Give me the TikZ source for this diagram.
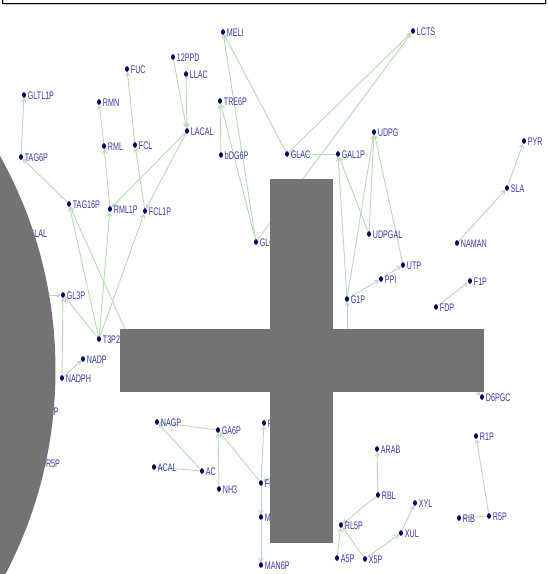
\documentclass[tikz,border=0pt]{standalone}
\usepackage{fontspec}
\newfontfamily\lblfont[FakeStretch=0.65]{Liberation Sans}
\usetikzlibrary{arrows.meta,shapes.geometric,backgrounds}
\definecolor{dotblue}{RGB}{10,10,100}
\definecolor{txtblue}{RGB}{55,55,165}
\definecolor{edgegreen}{RGB}{185,218,185}
\definecolor{cover}{RGB}{115,115,115}

\begin{document}
\begin{tikzpicture}[x=1pt,y=-1pt,
  met/.style={ellipse,fill=dotblue,inner sep=0pt,minimum width=4pt,minimum height=5.6pt,
    label={[lbl]right:#1}},
  lbl/.style={text=txtblue,font=\lblfont\fontsize{11}{11}\selectfont,inner sep=1.5pt,
    text height=8pt,text depth=0pt},
  rx/.style={draw=edgegreen,line width=0.9pt,-{Straight Barb[length=3.5pt,width=4.5pt]}}]
\useasboundingbox (0,0) rectangle (548,574);
% frame at the top
\draw[gray!45,line width=1.6pt] (3.5,-5) -- (3.5,4.6) -- (546.5,4.6) -- (546.5,-5);
\draw[black,line width=0.8pt] (2,-5) -- (2,3) -- (545,3) -- (545,-5);

\node[met=MELI] (meli) at (223,32) {};
\node[met=LCTS] (lcts) at (413,31) {};
\node[met=12PPD] (ppd) at (173,57) {};
\node[met=FUC] (fuc) at (127,69) {};
\node[met=LLAC] (llac) at (186,74) {};
\node[met=GLTL1P] (gltl1p) at (24,95) {};
\node[met=RMN] (rmn) at (99,102) {};
\node[met=TRE6P] (tre6p) at (220,101) {};
\node[met=LACAL] (lacal) at (187,131) {};
\node[met=UDPG] (udpg) at (374,132) {};
\node[met=PYR] (pyr) at (524,141) {};
\node[met=RML] (rml) at (104,146) {};
\node[met=FCL] (fcl) at (135,145) {};
\node[met=TAG6P] (tag6p) at (21,157) {};
\node[met=bDG6P] (bdg6p) at (221,155) {};
\node[met=GLAC] (glac) at (287,154) {};
\node[met=GAL1P] (gal1p) at (338,154) {};
\node[met=SLA] (sla) at (507,188) {};
\node[met=TAG16P] (tag16p) at (69,204) {};
\node[met=RML1P] (rml1p) at (110,209) {};
\node[met=FCL1P] (fcl1p) at (145,211) {};
\node[met=GLAL] (glal) at (25,233) {};
\node[met=UDPGAL] (udpgal) at (369,234) {};
\node[met=GLC] (glc) at (256,242) {};
\node[met=NAMAN] (naman) at (457,243) {};
\node[met=UTP] (utp) at (403,265) {};
\node[met=PPI] (ppi) at (381,279) {};
\node[met=F1P] (f1p) at (470,281) {};
\node[met=GL3P] (gl3p) at (63,295) {};
\node[met=G1P] (g1p) at (347,299) {};
\node[met=FDP] (fdp) at (436,307) {};
\node[met=T3P2] (t3p2) at (99,339) {};
\node[met=NADP] (nadp) at (83,359) {};
\node[met=NADPH] (nadph) at (62,378) {};
\node[met=D6PGC] (d6pgc) at (482,397) {};
\node[met=DR1P] (dr1p) at (35.5,411) {};
\node[met=NAGP] (nagp) at (157,422) {};
\node[met=FRU] (fru) at (264,423) {};
\node[met=GA6P] (ga6p) at (218,430) {};
\node[met=R1P] (r1p) at (476,436) {};
\node[met=ARAB] (arab) at (377,449) {};
\node[met=DR5P] (dr5p) at (37,463) {};
\node[met=ACAL] (acal) at (154,467) {};
\node[met=AC] (ac) at (202,471) {};
\node[met=F6P] (f6p) at (261,483) {};
\node[met=NH3] (nh3) at (219,489) {};
\node[met=RBL] (rbl) at (378,495) {};
\node[met=XYL] (xyl) at (415,503) {};
\node[met=R5P] (r5p) at (489,516) {};
\node[met=MNL1P] (mnl1p) at (261,517) {};
\node[met=RIB] (rib) at (459,518) {};
\node[met=RL5P] (rl5p) at (341,525) {};
\node[met=XUL] (xul) at (401,533) {};
\node[met=A5P] (a5p) at (337,558) {};
\node[met=X5P] (x5p) at (365,559) {};
\node[met=MAN6P] (man6p) at (261,565) {};
\coordinate (gl) at (10,295);
\coordinate (t3p1) at (150,385);
\coordinate (g6p) at (347,370);
\coordinate (f6pr) at (300,461);
\coordinate (pgl) at (455,370);

\begin{scope}[on background layer]
\draw[rx] (tag6p) -- (gltl1p);
\draw[rx] (tag16p) -- (tag6p);
\draw[rx] (t3p2) -- (tag16p);
\draw[rx] (t3p1) -- (tag16p);
\draw[rx] (rml) -- (rmn);
\draw[rx] (rml1p) -- (rml);
\draw[rx] (t3p2) -- (rml1p);
\draw[rx] (lacal) -- (rml1p);
\draw[rx] (fcl) -- (fuc);
\draw[rx] (fcl1p) -- (fcl);
\draw[rx] (t3p2) -- (fcl1p);
\draw[rx] (lacal) -- (fcl1p);
\draw[rx] (ppd) -- (lacal);
\draw[rx] (llac) -- (lacal);
\draw[rx] (t3p2) -- (gl3p);
\draw[rx] (nadph) -- (gl3p);
\draw[rx] (gl) -- (gl3p);
\draw[rx] (nadph) -- (nadp);
\draw[rx] (glac) -- (meli);
\draw[rx] (glc) -- (meli);
\draw[rx] (glac) -- (lcts);
\draw[rx] (glc) -- (lcts);
\draw[rx] (bdg6p) -- (tre6p);
\draw[rx] (glc) -- (tre6p);
\draw[rx] (gal1p) -- (glac);
\draw[rx] (g1p) -- (gal1p);
\draw[rx] (udpgal) -- (gal1p);
\draw[rx] (udpgal) -- (udpg);
\draw[rx] (g1p) -- (udpg);
\draw[rx] (utp) -- (udpg);
\draw[rx] (g1p) -- (ppi);
\draw[rx] (ppi) -- (utp);
\draw[rx] (g6p) -- (g1p);
\draw[rx] (naman) -- (sla);
\draw[rx] (sla) -- (pyr);
\draw[rx] (fdp) -- (f1p);
\draw[rx] (pgl) -- (d6pgc);
\draw[rx] (ga6p) -- (nagp);
\draw[rx] (ac) -- (nagp);
\draw[rx] (ac) -- (acal);
\draw[rx] (nh3) -- (ga6p);
\draw[rx] (f6p) -- (ga6p);
\draw[rx] (f6p) -- (fru);
\draw[rx] (f6p) -- (mnl1p);
\draw[rx] (mnl1p) -- (man6p);
\draw[rx] (f6pr) -- (f6p);
\draw[rx] (rbl) -- (arab);
\draw[rx] (rbl) -- (rl5p);
\draw[rx] (a5p) -- (rl5p);
\draw[rx] (x5p) -- (rl5p);
\draw[rx] (x5p) -- (xul);
\draw[rx] (xul) -- (xyl);
\draw[rx] (r5p) -- (rib);
\draw[rx] (r5p) -- (r1p);
\end{scope}

% grey shapes lying over the graph
\fill[cover] (-384.5,370) circle (440);
\fill[cover] (270,179) rectangle (333,543);
\fill[cover] (120,329) rectangle (484,392);
\end{tikzpicture}
\end{document}
